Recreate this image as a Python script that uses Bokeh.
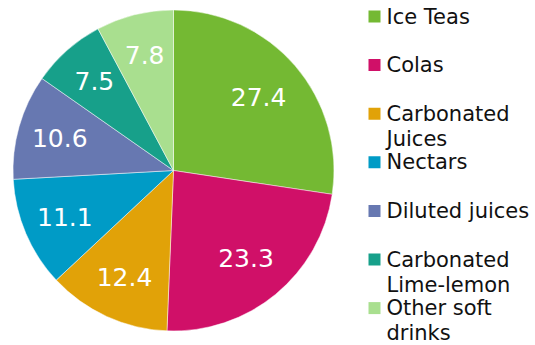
import math
from bokeh.plotting import figure
from bokeh.models import ColumnDataSource, Range1d
from bokeh.core.properties import value
from bokeh.embed import file_html
from bokeh.resources import INLINE

# Soft drink market shares (%)
categories = ["Ice Teas", "Colas", "Carbonated Juices", "Nectars",
              "Diluted juices", "Carbonated Lime-lemon", "Other soft drinks"]
legend_labels = ["Ice Teas", "Colas", "Carbonated\nJuices", "Nectars",
                 "Diluted juices", "Carbonated\nLime-lemon", "Other soft\ndrinks"]
shares = [27.4, 23.3, 12.4, 11.1, 10.6, 7.5, 7.8]
colors = ["#74B933", "#D01068", "#E1A208", "#009BC6",
          "#6778B1", "#17A08A", "#A9DF8F"]

W, H = 535, 345
CX, CY, R = 173, H - 170, 160.5
FONT = "DejaVu Sans"

total = sum(shares)
starts, ends, lx, ly, texts = [], [], [], [], []
cum = 0.0
for v in shares:
    a0 = math.pi / 2 - 2 * math.pi * cum / total
    cum += v
    a1 = math.pi / 2 - 2 * math.pi * cum / total
    starts.append(a0)
    ends.append(a1)
    mid = (a0 + a1) / 2
    # smaller slices carry their label a little further out
    rf = 0.70 + 0.06 * (1 - v / max(shares))
    lx.append(CX + rf * R * math.cos(mid))
    ly.append(CY + rf * R * math.sin(mid))
    texts.append(f"{v:.1f}")

p = figure(width=W, height=H, output_backend="svg", toolbar_location=None,
           x_range=Range1d(0, W), y_range=Range1d(0, H),
           min_border=0, outline_line_color=None)
p.axis.visible = False
p.grid.visible = False
p.background_fill_color = "white"
p.border_fill_color = "white"

pie = ColumnDataSource(dict(start=starts, end=ends, color=colors,
                            lx=lx, ly=ly, text=texts, cat=categories))
p.wedge(x=CX, y=CY, radius=R, start_angle="start", end_angle="end",
        direction="clock", fill_color="color", line_color="white",
        line_width=0.8, line_alpha=0.6, source=pie)
p.text(x="lx", y="ly", text="text", source=pie, text_color="white",
       text_font=value(FONT), text_font_size="25px",
       text_align="center", text_baseline="middle")

# Legend: swatch plus (possibly wrapped) label per category
row_mid = [16 + 48.6 * i for i in range(len(categories))]
leg = ColumnDataSource(dict(
    sx=[374] * len(categories),
    sy=[H - y for y in row_mid],
    tx=[386] * len(categories),
    ty=[H - y + 12 for y in row_mid],
    label=legend_labels, color=colors))
p.rect(x="sx", y="sy", width=12, height=12, fill_color="color",
       line_color=None, source=leg)
p.text(x="tx", y="ty", text="label", source=leg, text_color="#111111",
       text_font=value(FONT), text_font_size="21px",
       text_align="left", text_baseline="top", text_line_height=1.05)

with open("out.html", "w") as f:
    f.write(file_html(p, INLINE))
